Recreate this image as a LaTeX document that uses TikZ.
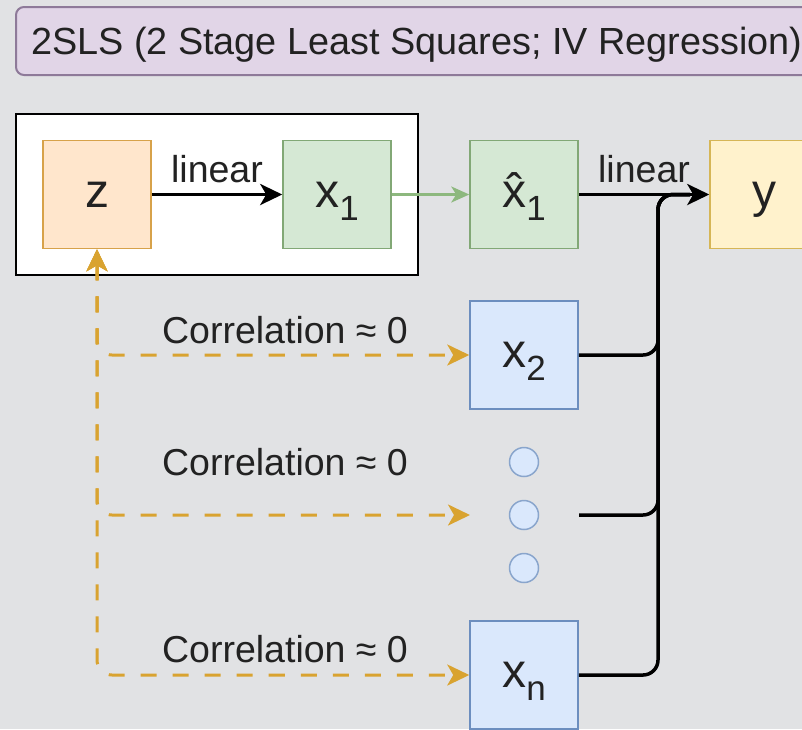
\documentclass[tikz,border=0pt]{standalone}
\usepackage{fontspec}
\setmainfont{Liberation Sans}
\usetikzlibrary{arrows.meta,calc}
\definecolor{bg}{HTML}{E1E2E4}
\definecolor{txt}{HTML}{222222}
\definecolor{titlefill}{HTML}{E1D5E7}
\definecolor{titledraw}{HTML}{8E7A99}
\definecolor{orfill}{HTML}{FFE6CC}
\definecolor{ordraw}{HTML}{D7A24A}
\definecolor{grfill}{HTML}{D5E8D4}
\definecolor{grdraw}{HTML}{82A876}
\definecolor{blfill}{HTML}{DAE8FC}
\definecolor{bldraw}{HTML}{6C8EBF}
\definecolor{yefill}{HTML}{FFF2CC}
\definecolor{yedraw}{HTML}{D6B656}
\definecolor{corrcol}{HTML}{D9A330}
\definecolor{greenarrow}{HTML}{8DB87E}
\newcommand{\bigf}{\fontsize{48}{50}\selectfont}
\newcommand{\labf}{\fontsize{37.5}{40}\selectfont}
\newcommand{\titf}{\fontsize{37.8}{40}\selectfont}
\newcommand{\sbs}[1]{\raisebox{-13pt}{\fontsize{35}{35}\selectfont #1}}
\tikzset{
  box/.style={draw, line width=1.5pt, minimum width=108pt, minimum height=108pt,
    inner sep=0pt, font=\bigf, text height=30pt, text depth=5pt, text=txt},
  zbox/.style={box, fill=orfill, draw=ordraw},
  gbox/.style={box, fill=grfill, draw=grdraw},
  bbox/.style={box, fill=blfill, draw=bldraw},
  ybox/.style={box, fill=yefill, draw=yedraw},
  dot/.style={circle, draw=bldraw!80, fill=blfill, line width=1.5pt, minimum size=29pt, inner sep=0pt},
  lab/.style={font=\labf, text=txt, inner sep=0pt, anchor=base},
  blk/.style={line width=3.5pt, draw=black},
  blkarrow/.style={blk, -{Stealth[length=22pt,width=21pt,inset=6pt]}},
  corr/.style={draw=corrcol, line width=3pt, dash pattern=on 16pt off 16pt,
    {Stealth[length=22pt,width=21pt,inset=6pt]}-{Stealth[length=22pt,width=21pt,inset=6pt]}, rounded corners=15pt},
  garrow/.style={draw=greenarrow, line width=2.5pt, -{Stealth[length=18pt,width=16pt,inset=5pt]}},
}
\begin{document}
\begin{tikzpicture}[x=1pt,y=-1pt]
\useasboundingbox (0,0) rectangle (802,729);
\fill[bg] (0,0) rectangle (802,729);
\clip (0,0) rectangle (802,729);

% title
\node[draw=titledraw, fill=titlefill, line width=2pt, rounded corners=8pt,
  minimum width=820pt, minimum height=68pt, inner sep=0pt] (titlebox) at (426,41) {};
\node[font=\titf, text=txt, inner sep=0pt, anchor=base west] (title) at (31,54)
  {2SLS (2 Stage Least Squares; IV Regression)};

% group box
\node[draw=black, fill=white, line width=2.5pt, minimum width=402pt, minimum height=161pt, inner sep=0pt] (grp) at (217,194.5) {};

% boxes
\node[zbox] (z) at (97,194.5) {z};
\node[gbox] (x1) at (337,194.5) {x\sbs{1}};
\node[gbox] (xh) at (524,194.5) {\^{x}\sbs{1}};
\node[ybox] (y) at (764,194.5) {y};
\node[bbox] (x2) at (524,355) {x\sbs{2}};
\node[bbox] (xn) at (524,675) {x\sbs{n}};
\node[dot] (c1) at (524,462) {};
\node[dot] (c2) at (524,515) {};
\node[dot] (c3) at (524,568) {};

\coordinate (xd) at (579,515);
\coordinate (xdl) at (470,515);
\coordinate (m) at (658,194.5);
\coordinate (j) at (690,194.5);

% arrows
\draw[blkarrow] (z) -- (x1);
\node[lab] (l1) at (217,182) {linear};
\draw[garrow] (x1) -- (xh);
\draw[blkarrow] (xh) -- (y);
\node[lab] (l2) at (644,182) {linear};

\draw[blk, rounded corners=15pt] (x2.east) -| (m) -- (j);
\draw[blk, rounded corners=15pt] (xd) -| (m) -- (j);
\draw[blk, rounded corners=15pt] (xn.east) -| (m) -- (j);

% correlation
\draw[corr] (z.south) |- (x2.west);
\draw[corr] (z.south) |- (xdl);
\draw[corr] (z.south) |- (xn.west);
\node[lab] (k1) at (285,343) {Correlation ≈ 0};
\node[lab] (k2) at (285,475) {Correlation ≈ 0};
\node[lab] (k3) at (285,662) {Correlation ≈ 0};
\end{tikzpicture}
\end{document}
